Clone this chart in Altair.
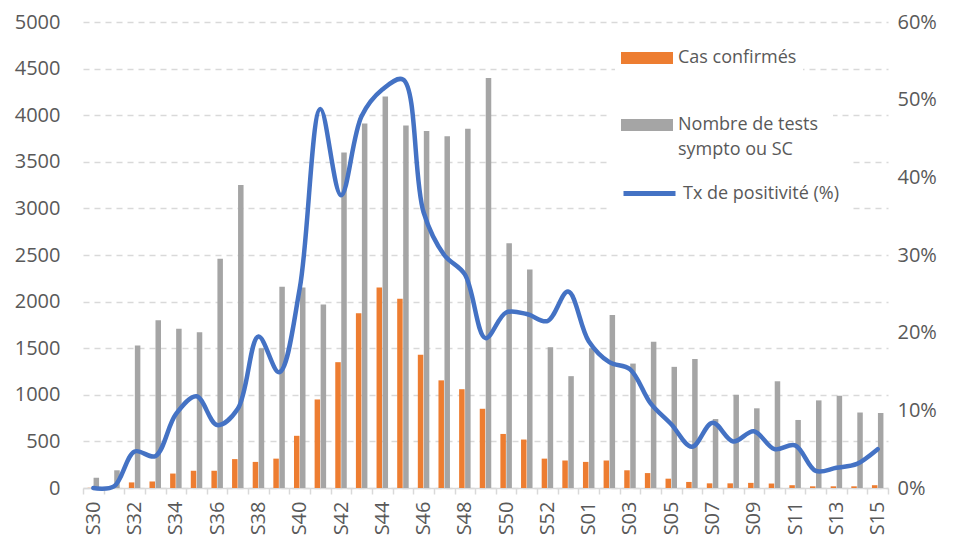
import json
import altair as alt
import pandas as pd

weeks = ["S30", "S31", "S32", "S33", "S34", "S35", "S36", "S37", "S38", "S39",
         "S40", "S41", "S42", "S43", "S44", "S45", "S46", "S47", "S48", "S49",
         "S50", "S51", "S52", "S53", "S01", "S02", "S03", "S04", "S05", "S06",
         "S07", "S08", "S09", "S10", "S11", "S12", "S13", "S14", "S15"]

cas_confirmes = [2, 5, 60, 70, 155, 185, 185, 310, 280, 315,
                 560, 950, 1350, 1875, 2150, 2030, 1430, 1155, 1060, 850,
                 580, 520, 315, 295, 280, 295, 190, 160, 100, 65,
                 50, 50, 55, 48, 30, 18, 18, 18, 30]

nombre_tests = [110, 190, 1530, 1800, 1710, 1670, 2460, 3250, 1500, 2160,
                2150, 1970, 3600, 3910, 4200, 3890, 3830, 3775, 3855, 4400,
                2625, 2345, 1510, 1200, 1500, 1855, 1335, 1570, 1300, 1385,
                740, 1000, 855, 1145, 730, 940, 990, 810, 805]

tx_positivite = [0.0, 0.2, 4.7, 4.1, 9.5, 11.8, 8.1, 10.2, 19.5, 14.9,
                 25.7, 48.8, 37.7, 47.9, 51.3, 52.6, 35.5, 30.0, 27.5, 19.3,
                 22.6, 22.4, 21.5, 25.3, 18.9, 16.2, 15.3, 10.9, 8.2, 5.3,
                 8.4, 6.0, 7.3, 5.0, 5.5, 2.2, 2.6, 3.1, 5.0]

series = ["Cas confirmés", "Nombre de tests", "sympto ou SC", "Tx de positivité (%)"]
colors = ["#ED7D31", "#A5A5A5", "#4472C4"]
left_ticks = list(range(0, 5001, 500))
right_ticks = [0, 0.1, 0.2, 0.3, 0.4, 0.5, 0.6]
shown_labels = weeks[::2]

df = pd.DataFrame({
    "semaine": weeks,
    "cas": cas_confirmes,
    "tests": nombre_tests,
    "tx": [v / 100 for v in tx_positivite],
    "s_cas": series[0],
    "s_tests": series[1],
    "s_tests2": series[2],
    "s_tx": series[3],
})

FONT = "Open Sans"
TEXT = "#595959"
GRID = "#D9D9D9"
W, H = 805, 466
RECT = "M-1,-0.23H1V0.23H-1Z"

label_expr = "indexof(%s, datum.value) >= 0 ? datum.value : ''" % json.dumps(shown_labels)

x_enc = alt.X(
    "semaine:N", sort=weeks,
    scale=alt.Scale(paddingInner=0, paddingOuter=0),
    axis=alt.Axis(title=None, labelAngle=-90, labelExpr=label_expr, labelOverlap=False,
                  tickBand="extent", domainColor=GRID, domainWidth=1.5, tickColor=GRID,
                  tickWidth=1.5, tickSize=6, labelPadding=7, labelFontSize=20,
                  labelColor=TEXT, labelFont=FONT, grid=False),
)

y_left_axis = alt.Axis(title=None, values=left_ticks, format="d", grid=True, gridDash=[6, 5],
                       gridColor=GRID, gridWidth=1.3, domain=False, ticks=False,
                       labelPadding=23, labelFontSize=20, labelColor=TEXT,
                       labelFont=FONT, minExtent=70, maxExtent=70)


def legend(x, y, pad, symbol, fill="white", z=1, **extra):
    kw = dict(orient="none", legendX=x, legendY=y, title=None, symbolType=symbol,
              symbolSize=2704, labelFontSize=18, labelColor=TEXT, labelFont=FONT,
              labelOffset=5, padding=pad, labelLimit=300, zindex=z)
    if fill:
        kw["fillColor"] = fill
    kw.update(extra)
    return alt.Legend(**kw)


bars_cas = alt.Chart(df).mark_bar(width=5.5, xOffset=-3).encode(
    x=x_enc,
    y=alt.Y("cas:Q", scale=alt.Scale(domain=[0, 5000], nice=False), axis=y_left_axis),
    color=alt.Color("s_cas:N", scale=alt.Scale(domain=[series[0]], range=[colors[0]]),
                    legend=legend(532, 4, 6, RECT, symbolStrokeWidth=0)),
)

bars_tests = alt.Chart(df).mark_bar(width=5.5, xOffset=3).encode(
    x=x_enc,
    y=alt.Y("tests:Q", scale=alt.Scale(domain=[0, 5000], nice=False), axis=y_left_axis),
    color=alt.Color("s_tests:N", scale=alt.Scale(domain=[series[1]], range=[colors[1]]),
                    legend=legend(524, 63, 14, RECT, symbolStrokeWidth=0)),
)

bars = alt.layer(bars_cas, bars_tests).resolve_scale(color="independent")

line = alt.Chart(df).mark_line(strokeWidth=4.5, interpolate="catmull-rom",
                               strokeCap="round", strokeJoin="round").encode(
    x=x_enc,
    y=alt.Y("tx:Q", scale=alt.Scale(domain=[0, 0.6], nice=False),
            axis=alt.Axis(title=None, orient="right", values=right_ticks, format=".0%",
                          grid=False, domain=False, ticks=False, labelPadding=9,
                          labelFontSize=20, labelColor=TEXT, labelFont=FONT)),
    color=alt.Color("s_tx:N", scale=alt.Scale(domain=[series[3]], range=[colors[2]]),
                    legend=legend(524, 129, 14, "stroke", symbolStrokeWidth=5)),
    opacity=alt.Opacity("s_tests2:N", scale=alt.Scale(domain=[series[2]], range=[1]),
                        legend=legend(528, 92, 10, "square", fill=None, z=3,
                                      symbolFillColor="transparent",
                                      symbolStrokeColor="transparent",
                                      symbolStrokeWidth=0)),
)

chart = alt.layer(bars, line).resolve_scale(
    y="independent", color="independent"
).properties(
    width=W, height=H,
    padding={"left": 5, "top": 4, "right": 5, "bottom": 0},
    background="white",
).configure_view(stroke=None)

chart.save("out.html", embed_options={"renderer": "svg", "actions": False})
